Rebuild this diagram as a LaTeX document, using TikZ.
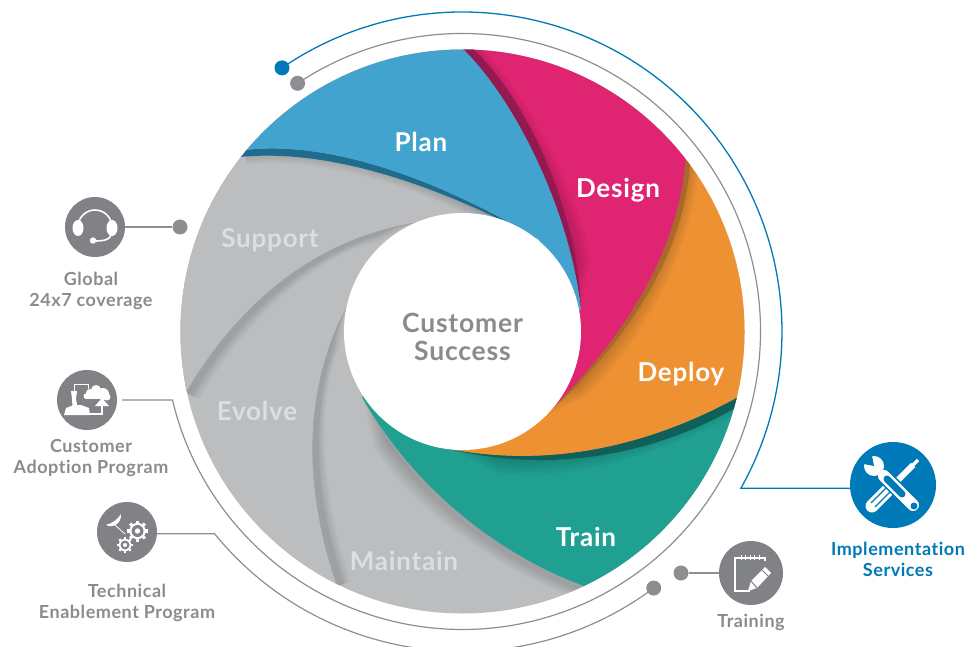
\documentclass[tikz,border=0pt]{standalone}
\usepackage{fontspec}
\setmainfont{Lato}[LetterSpace=3,Ligatures=CommonOff]
\usetikzlibrary{positioning}
\definecolor{planblue}{HTML}{42A3CE}
\definecolor{planedge}{HTML}{1F6C8F}
\definecolor{designpink}{HTML}{DF2472}
\definecolor{designedge}{HTML}{921A50}
\definecolor{deployorange}{HTML}{EE9133}
\definecolor{deployedge}{HTML}{A9692B}
\definecolor{trainteal}{HTML}{20A090}
\definecolor{trainedge}{HTML}{10605A}
\definecolor{bladegrey}{HTML}{BCBDBF}
\definecolor{bladeedge}{HTML}{9FA0A3}
\definecolor{bladetext}{HTML}{DDDEE0}
\definecolor{icongrey}{HTML}{808285}
\definecolor{textgrey}{HTML}{898B8E}
\definecolor{ringgrey}{HTML}{8C8E91}
\definecolor{implblue}{HTML}{0079B8}
\newcommand{\softshadow}[1]{\foreach \w in {3,6,...,30}{\draw[black,opacity=0.018,line width=\w pt,shorten >=1.6*\w pt] #1;}}
\newcommand{\gearwheel}[3]{%
  \fill[white] (#1) circle[radius=#2*0.78pt];
  \foreach \a in {0,45,...,315}{\draw[white,line width=#2*0.3pt] (#1) -- ++(\a:#2*1pt);}
  \fill[icongrey] (#1) circle[radius=#3];
  \fill[white] (#1) circle[radius=#3*0.45];}
\tikzset{
  bladelabel/.style={font=\fontsize{26}{30}\selectfont\bfseries,text=white},
  greylabel/.style={font=\fontsize{26}{30}\selectfont\bfseries,text=bladetext},
  iconcircle/.style={circle,fill=icongrey,minimum size=60pt,inner sep=0pt},
  sidelabel/.style={font=\fontsize{18}{21}\selectfont\bfseries,text=textgrey,align=center},
  dot/.style={circle,fill=ringgrey,minimum size=15pt,inner sep=0pt},
  ringline/.style={draw=ringgrey,line width=1.2pt},
  hub/.style={circle,fill=white,minimum size=237pt,inner sep=0pt},
  hubtext/.style={align=center,text=textgrey,font=\fontsize{26.5}{28}\selectfont\bfseries}
}
\begin{document}
\begin{tikzpicture}[x=1pt,y=-1pt]
\useasboundingbox (0,0) rectangle (977,647);
\coordinate (discCentre) at (462.5,331.5);

\begin{scope}
  \clip (discCentre) circle[radius=282pt];
  \fill[bladegrey] (100,0) rectangle (900,647);
  % grey blades, lowest first
  \softshadow{(337,586) .. controls (300,480) and (305,380) .. (350,300)}
  \fill[bladeedge] (337,586) .. controls (300,480) and (305,380) .. (350,300) .. controls (312,380) and (307,480) .. (344,584) -- cycle;
  \fill[bladegrey] (337,586) .. controls (300,480) and (305,380) .. (350,300) -- (340,200) -- (100,200) -- (100,640) -- (337,640) -- cycle;
  \softshadow{(186,392) .. controls (240,300) and (320,235) .. (425,221)}
  \fill[bladeedge] (186,392) .. controls (240,300) and (320,235) .. (425,221) .. controls (322,240) and (244,306) .. (192,396) -- cycle;
  \fill[bladegrey] (186,392) .. controls (240,300) and (320,235) .. (425,221) -- (520,230) -- (520,0) -- (100,0) -- (100,392) -- cycle;
  % train
  \softshadow{(584,586) .. controls (500,555) and (415,490) .. (362,397)}
  \fill[bladeedge] (584,586) .. controls (500,555) and (415,490) .. (362,397) .. controls (412,494) and (498,559) .. (578,588) -- cycle;
  \fill[trainteal] (738,397) .. controls (660,440) and (560,470) .. (450,449) -- (462,331) -- (362,397) .. controls (415,490) and (500,555) .. (584,586) -- (620,700) -- (980,600) -- cycle;
  % deploy
  \softshadow{(738,397) .. controls (660,440) and (560,470) .. (450,449)}
  \fill[trainedge] (738,397) .. controls (660,440) and (560,470) .. (450,449) .. controls (560,476) and (662,450) .. (735,408) -- cycle;
  \fill[deployorange] (686,155) .. controls (680,245) and (630,335) .. (540,420) -- (462,331) -- (450,449) .. controls (560,470) and (660,440) .. (738,397) -- (980,397) -- (980,100) -- cycle;
  % design
  \softshadow{(686,155) .. controls (680,245) and (630,335) .. (540,420)}
  \fill[deployedge] (686,155) .. controls (680,245) and (630,335) .. (540,420) .. controls (634,338) and (685,248) .. (690,162) -- cycle;
  \fill[designpink] (463,49) .. controls (515,100) and (570,210) .. (581,310) -- (462,331) -- (540,420) .. controls (630,335) and (680,245) .. (686,155) -- (760,0) -- (463,0) -- cycle;
  % plan
  \softshadow{(463,49) .. controls (515,100) and (570,210) .. (581,310)}
  \fill[designedge] (463,49) .. controls (515,100) and (570,210) .. (581,310) .. controls (578,210) and (526,98) .. (473,49) -- cycle;
  \softshadow{(245,150) .. controls (330,140) and (440,180) .. (540,240)}
  \fill[planedge] (245,150) .. controls (330,140) and (440,180) .. (540,240) .. controls (440,186) and (330,148) .. (240,157) -- cycle;
  \fill[planblue] (245,150) .. controls (330,140) and (440,180) .. (540,240) -- (462,331) -- (581,310) .. controls (570,210) and (515,100) .. (463,49) -- (463,0) -- (230,0) -- cycle;
\end{scope}

\node[hub] (hub) at (discCentre) {};
\node[hubtext] (hubLabel) at (462.5,337) {Customer\\Success};

\node[bladelabel] (plan) at (421,142) {Plan};
\node[bladelabel] (design) at (618,190) {Design};
\node[bladelabel] (deploy) at (681,374) {Deploy};
\node[bladelabel] (train) at (586,537) {Train};
\node[greylabel] (maintain) at (404,561) {Maintain};
\node[greylabel] (evolve) at (257,411) {Evolve};
\node[greylabel] (support) at (270,240) {Support};

\node[iconcircle] (iconHeadset) at (95,227) {};
\node[iconcircle] (iconAdoption) at (87,400) {};
\node[iconcircle] (iconTechnical) at (127,532) {};
\node[iconcircle,minimum size=64pt] (iconTraining) at (751,573) {};
\node[iconcircle,fill=implblue,minimum size=86pt] (iconImpl) at (893,485) {};

\node[sidelabel,below=11pt of iconHeadset,xshift=-4pt] (labelHeadset) {Global\\24x7 coverage};
\node[sidelabel,below=6pt of iconAdoption,xshift=4pt] (labelAdoption) {Customer\\Adoption Program};
\node[sidelabel,below=18pt of iconTechnical] (labelTechnical) {Technical\\Enablement Program};
\node[sidelabel,below=5pt of iconTraining] (labelTraining) {Training};
\node[sidelabel,text=implblue,below=10pt of iconImpl,xshift=5pt] (labelImpl) {Implementation\\Services};

\node[dot] (dotHeadset) at (180,227) {};
\node[dot] (dotTraining) at (681,573) {};
\node[dot,fill=implblue] (dotImpl) at ([shift={(124.4:319.5pt)}]discCentre) {};
\node[dot] (dotUpper) at ([shift={(123.6:298pt)}]discCentre) {};
\node[dot] (dotLower) at ([shift={(306.7:320pt)}]discCentre) {};
\coordinate (cornerImpl) at ([shift={(-29.4:319.5pt)}]discCentre);
\coordinate (cornerTechnical) at ([shift={(219.2:320pt)}]discCentre);

\draw[ringline] (dotHeadset) -- (iconHeadset);
\draw[ringline] (dotTraining) -- (iconTraining);
\draw[ringline,shorten >=5pt] (dotUpper.center) arc[start angle=123.6,end angle=-166.7,radius=298pt] -- (iconAdoption);
\draw[ringline] (cornerTechnical -| iconTechnical.east) -- (cornerTechnical) arc[start angle=219.2,end angle=306.7,radius=320pt] -- (dotLower);
\draw[draw=implblue,line width=1.3pt] (dotImpl.center) arc[start angle=124.4,end angle=-29.4,radius=319.5pt] -- (cornerImpl -| iconImpl.west);

% headset
\begin{scope}[shift={(95,227)}]
  \draw[white,line width=1.6pt] (-17,0) arc[start angle=180,end angle=0,radius=17pt];
  \fill[white] (-17,1) ellipse[x radius=5.5pt,y radius=8pt];
  \fill[white] (17,1) ellipse[x radius=5.5pt,y radius=8pt];
  \draw[white,line width=1.6pt] (16,8) .. controls (15,13) and (8,14) .. (-1,14);
  \fill[white] (-2,13.5) circle[radius=3.2pt];
\end{scope}

% person, cloud and arrow
\begin{scope}[shift={(87,400)}]
  \fill[white] (-23,15) -- (-21,8) -- (-13,5) -- (-6,5) -- (2,8) -- (3,15) -- cycle;
  \fill[white] (-16,-9) -- (-10,-9) -- (-11,-1) -- (-9.5,7) -- (-14.5,7) -- (-15,-1) -- cycle;
  \draw[white,line width=1pt] (-13,-9) -- (-13,-16) -- (1,-16) -- (1,-11);
  \fill[white] (-1,-4) circle[radius=2.5pt] (3,-7) circle[radius=4pt] (9,-10) circle[radius=5pt] (16,-6) circle[radius=6pt] (20,-3) circle[radius=3.5pt];
  \fill[white] (-2,-6) rectangle (21,-1);
  \draw[white,line width=1.6pt] (-2,14) -- (15,14) -- (15,5);
  \fill[white] (8,6) -- (15,-2) -- (22,6) -- cycle;
\end{scope}

% dish and gears
\begin{scope}[shift={(127,532)}]
  \fill[white] (-21,-7) .. controls (-14,-9) and (-9,-13) .. (-6,-18) .. controls (-5,-10) and (-13,-3) .. (-21,-7) -- cycle;
  \draw[white,line width=0.8pt] (-12,-7) -- (-2,2);
  \gearwheel{10.5,-1}{10.5}{6pt}
  \gearwheel{-2,13}{8}{4.5pt}
\end{scope}

% notepad and pencil
\begin{scope}[shift={(751,573)}]
  \draw[white,line width=1.4pt] (14,-12) -- (14,-15) -- (-16,-15) -- (-16,18) -- (-1,18);
  \foreach \x in {-10,-5.5,...,10}{\draw[white,line width=1pt] (\x,-18) -- (\x,-13);}
  \draw[icongrey,line width=13pt] (-1,17) -- (18,-1);
  \fill[white] (-3,18) -- (0,8) -- (14,-6) -- (20,0) -- (6,15) -- cycle;
  \draw[icongrey,line width=1pt] (0,8) -- (6,15) (11,-3) -- (17,3);
\end{scope}

% wrench and screwdriver
\begin{scope}[shift={(893,485)}]
  \draw[white,line width=3.5pt] (25,-25) -- (18,-18);
  \draw[white,line width=6pt] (20,-20) -- (4,-4);
  \draw[white,line width=13pt,line cap=round] (-4,4) -- (-21,21);
  \draw[implblue,line width=1.2pt] (-7,3) -- (-22,18) (-3,7) -- (-18,22);
  \draw[implblue,line width=15pt,line cap=round] (-9,-9) -- (20,20);
  \draw[white,line width=12pt,line cap=round] (-9,-9) -- (20,20);
  \draw[implblue,line width=7pt,line cap=round] (-6,-6) -- (9,9);
  \fill[white] (-19,-19) circle[radius=10pt];
  \fill[implblue] (-19,-19) -- (-34,-22) -- (-22,-34) -- cycle;
  \fill[implblue] (21,21) circle[radius=3.5pt];
\end{scope}
\end{tikzpicture}
\end{document}
